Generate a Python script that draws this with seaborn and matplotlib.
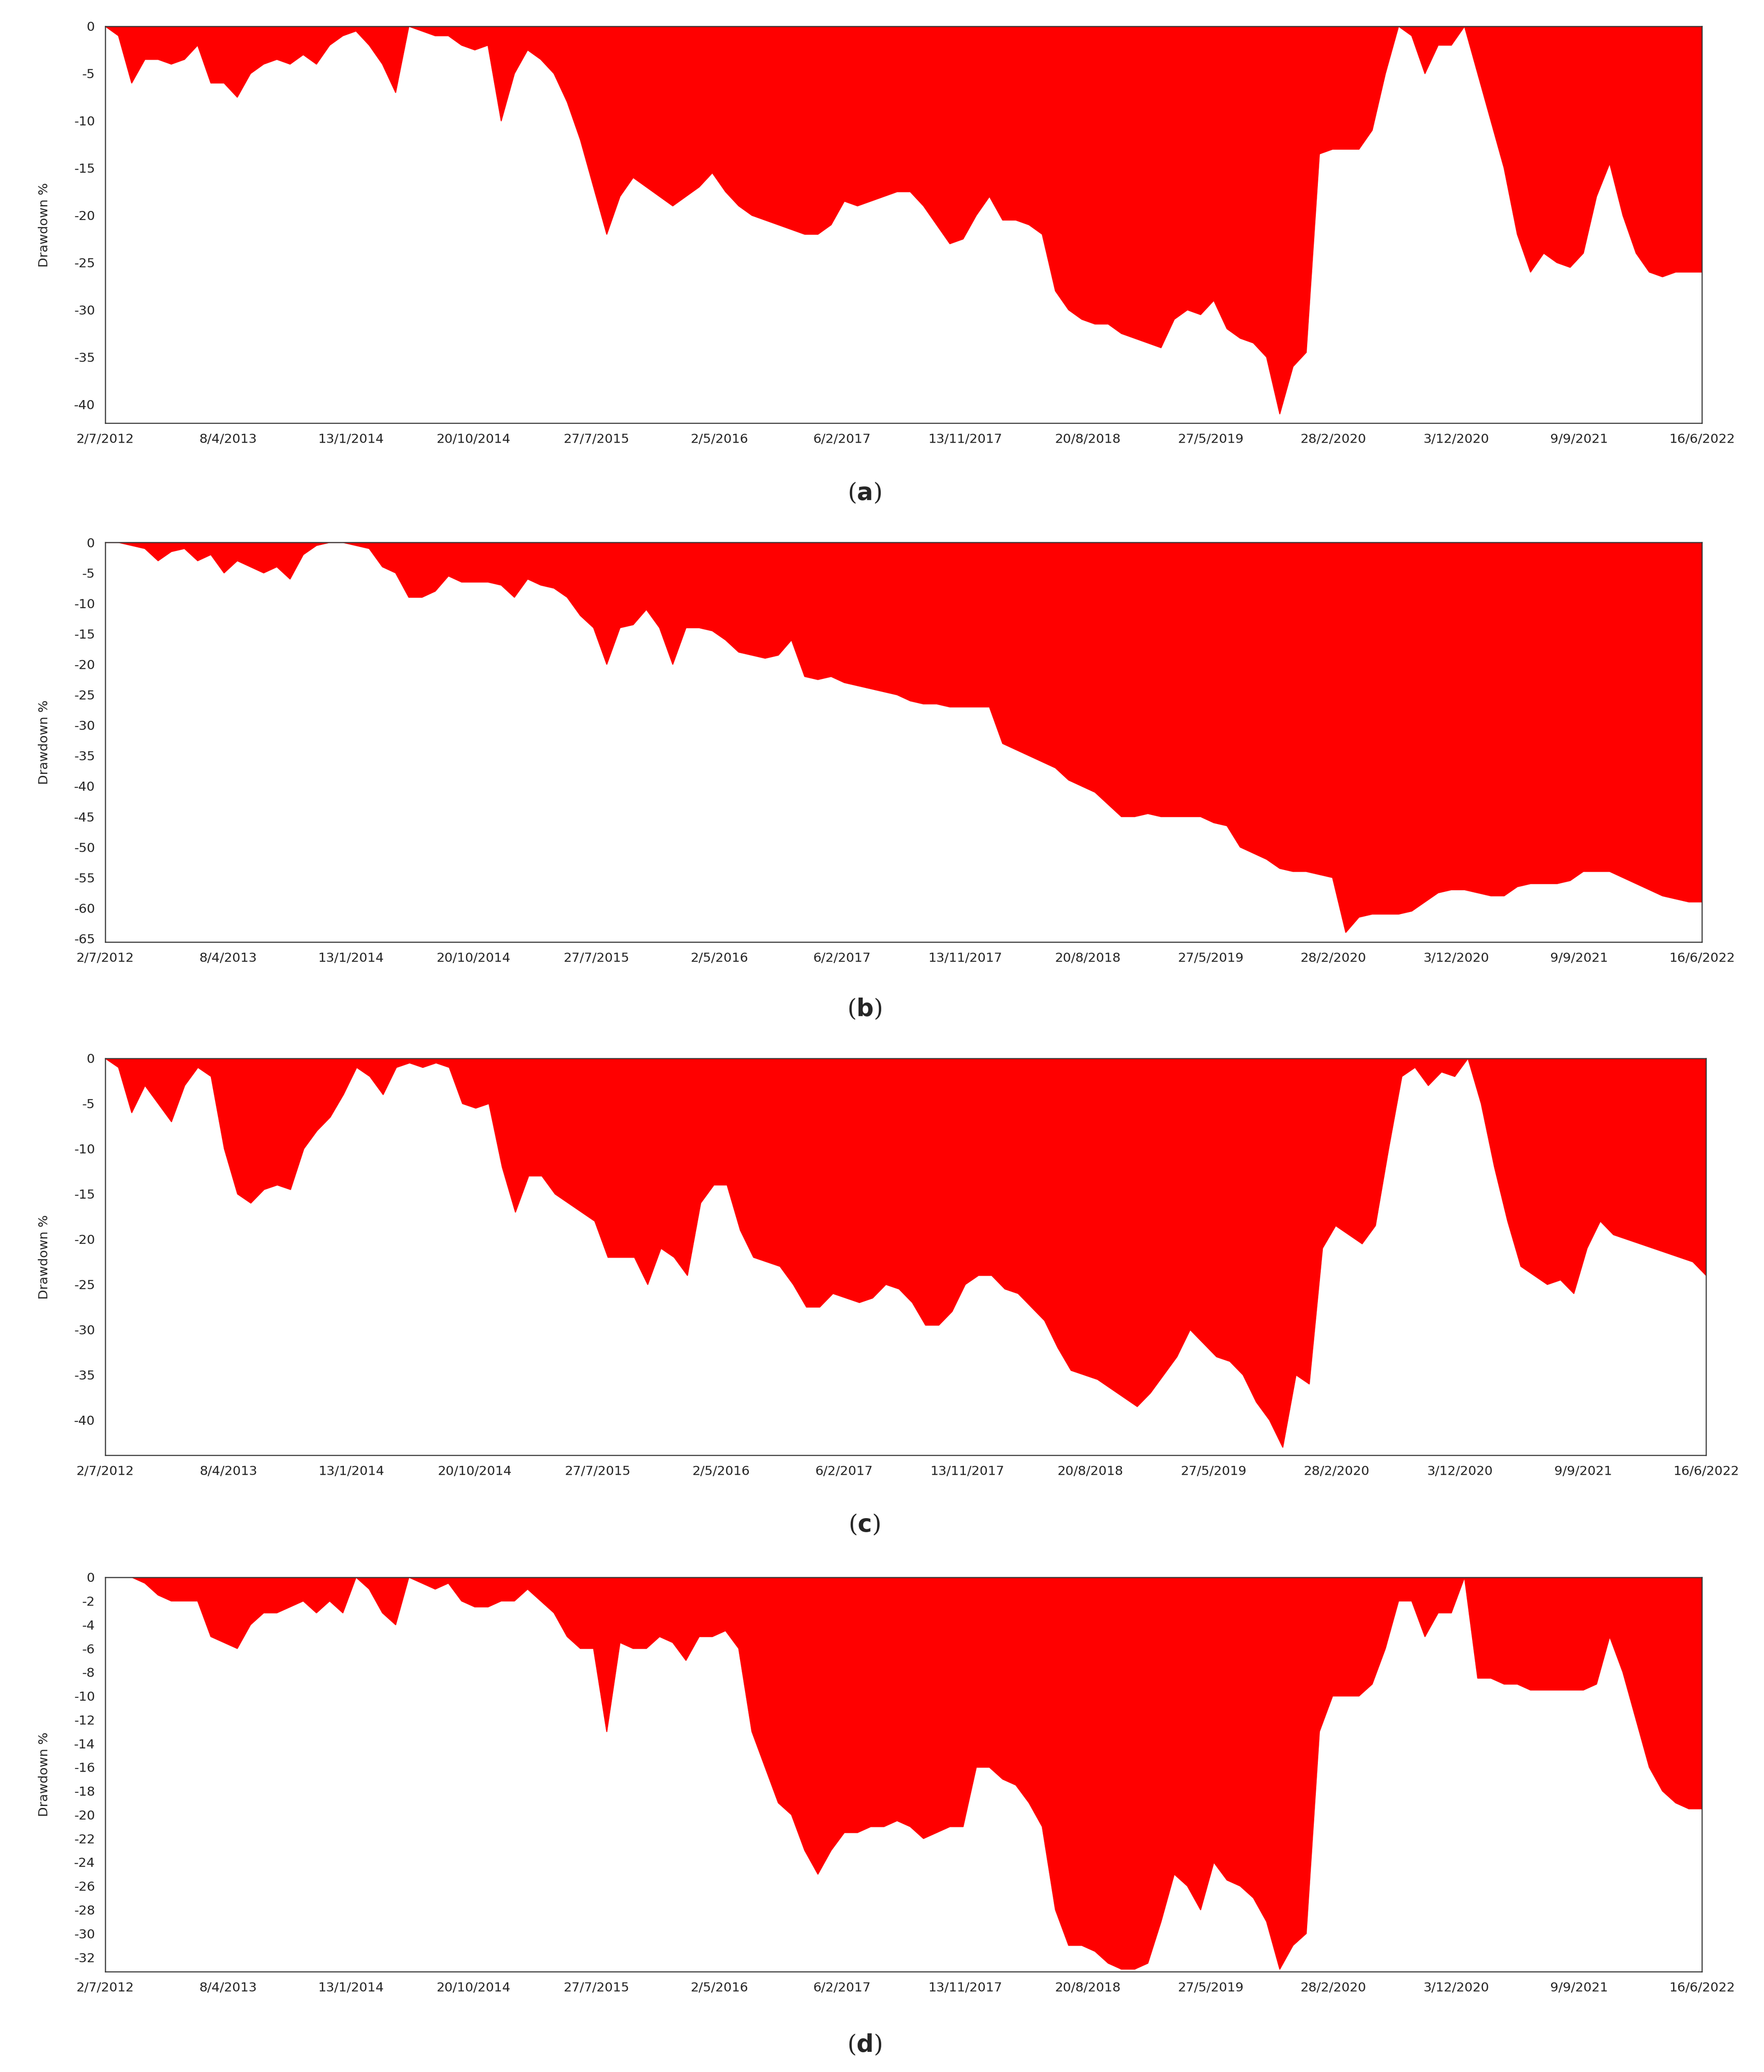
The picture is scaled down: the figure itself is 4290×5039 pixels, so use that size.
"""
Drawdown panels (a)-(d) redrawn with seaborn/matplotlib
"""

import numpy as np
import pandas as pd
import matplotlib.pyplot as plt
import seaborn as sns

sns.set_style('white')
plt.rcParams['font.family'] = ['DejaVu Sans']

# tick labels on the (trading-day) x axis
tick_labels = ['2/7/2012', '8/4/2013', '13/1/2014', '20/10/2014', '27/7/2015',
               '2/5/2016', '6/2/2017', '13/11/2017', '20/8/2018', '27/5/2019',
               '28/2/2020', '3/12/2020', '9/9/2021', '16/6/2022']

dd_a = [0, -1, -6, -3.5, -3.5, -4, -3.5, -2, -6, -6, -7.5, -5, -4, -3.5, -4, -3, -4, -2, -1, -0.5,
        -2, -4, -7, 0, -0.5, -1, -1, -2, -2.5, -2, -10, -5, -2.5, -3.5, -5, -8, -12, -17, -22, -18,
        -16, -17, -18, -19, -18, -17, -15.5, -17.5, -19, -20, -20.5, -21, -21.5, -22, -22, -21, -18.5, -19, -18.5, -18,
        -17.5, -17.5, -19, -21, -23, -22.5, -20, -18, -20.5, -20.5, -21, -22, -28, -30, -31, -31.5, -31.5, -32.5, -33, -33.5,
        -34, -31, -30, -30.5, -29, -32, -33, -33.5, -35, -41, -36, -34.5, -13.5, -13, -13, -13, -11, -5, 0, -1,
        -5, -2, -2, 0, -5, -10, -15, -22, -26, -24, -25, -25.5, -24, -18, -14.5, -20, -24, -26, -26.5, -26,
        -26, -26]

dd_b = [0, 0, -0.5, -1, -3, -1.5, -1, -3, -2, -5, -3, -4, -5, -4, -6, -2, -0.5, 0, 0, -0.5,
        -1, -4, -5, -9, -9, -8, -5.5, -6.5, -6.5, -6.5, -7, -9, -6, -7, -7.5, -9, -12, -14, -20, -14,
        -13.5, -11, -14, -20, -14, -14, -14.5, -16, -18, -18.5, -19, -18.5, -16, -22, -22.5, -22, -23, -23.5, -24, -24.5,
        -25, -26, -26.5, -26.5, -27, -27, -27, -27, -33, -34, -35, -36, -37, -39, -40, -41, -43, -45, -45, -44.5,
        -45, -45, -45, -45, -46, -46.5, -50, -51, -52, -53.5, -54, -54, -54.5, -55, -64, -61.5, -61, -61, -61, -60.5,
        -59, -57.5, -57, -57, -57.5, -58, -58, -56.5, -56, -56, -56, -55.5, -54, -54, -54, -55, -56, -57, -58, -58.5,
        -59, -59]

dd_c = [0, -1, -6, -3, -5, -7, -3, -1, -2, -10, -15, -16, -14.5, -14, -14.5, -10, -8, -6.5, -4, -1,
        -2, -4, -1, -0.5, -1, -0.5, -1, -5, -5.5, -5, -12, -17, -13, -13, -15, -16, -17, -18, -22, -22,
        -22, -25, -21, -22, -24, -16, -14, -14, -19, -22, -22.5, -23, -25, -27.5, -27.5, -26, -26.5, -27, -26.5, -25,
        -25.5, -27, -29.5, -29.5, -28, -25, -24, -24, -25.5, -26, -27.5, -29, -32, -34.5, -35, -35.5, -36.5, -37.5, -38.5, -37,
        -35, -33, -30, -31.5, -33, -33.5, -35, -38, -40, -43, -35, -36, -21, -18.5, -19.5, -20.5, -18.5, -10, -2, -1,
        -3, -1.5, -2, 0, -5, -12, -18, -23, -24, -25, -24.5, -26, -21, -18, -19.5, -20, -20.5, -21, -21.5, -22,
        -22.5, -24]

dd_d = [0, 0, 0, -0.5, -1.5, -2, -2, -2, -5, -5.5, -6, -4, -3, -3, -2.5, -2, -3, -2, -3, 0,
        -1, -3, -4, 0, -0.5, -1, -0.5, -2, -2.5, -2.5, -2, -2, -1, -2, -3, -5, -6, -6, -13, -5.5,
        -6, -6, -5, -5.5, -7, -5, -5, -4.5, -6, -13, -16, -19, -20, -23, -25, -23, -21.5, -21.5, -21, -21,
        -20.5, -21, -22, -21.5, -21, -21, -16, -16, -17, -17.5, -19, -21, -28, -31, -31, -31.5, -32.5, -33, -33, -32.5,
        -29, -25, -26, -28, -24, -25.5, -26, -27, -29, -33, -31, -30, -13, -10, -10, -10, -9, -6, -2, -2,
        -5, -3, -3, 0, -8.5, -8.5, -9, -9, -9.5, -9.5, -9.5, -9.5, -9.5, -9, -5, -8, -12, -16, -18, -19,
        -19.5, -19.5]

panels = [
    ('a', dd_a, -42.0, np.arange(0, -41, -5)),
    ('b', dd_b, -65.6, np.arange(0, -66, -5)),
    ('c', dd_c, -43.9, np.arange(0, -41, -5)),
    ('d', dd_d, -33.2, np.arange(0, -33, -2)),
]

fig = plt.figure(figsize=(14.3, 16.797), dpi=300)

# axes boxes in figure fractions (left, bottom, width, height)
boxes = [(0.0597, 0.7957, 0.9052, 0.1916),
         (0.0597, 0.5453, 0.9052, 0.1929),
         (0.0597, 0.2976, 0.9075, 0.1916),
         (0.0597, 0.0485, 0.9052, 0.1903)]
label_y = [0.762, 0.513, 0.264, 0.013]

for (letter, vals, ymin, yticks), box, ly in zip(panels, boxes, label_y):
    ax = fig.add_axes(box)
    df = pd.DataFrame({'pos': np.arange(len(vals)), 'dd': vals})
    ax.fill_between(df['pos'], 0, df['dd'], color='#ff0000', linewidth=0)
    sns.lineplot(data=df, x='pos', y='dd', color='#ff0000', linewidth=0.6, ax=ax)
    n = len(vals) - 1
    ax.set_xlim(0, n)
    ax.set_ylim(ymin, 0)
    ax.set_xticks(np.linspace(0, n, len(tick_labels)))
    ax.set_xticklabels(tick_labels, fontsize=7.5)
    ax.set_yticks(yticks)
    ax.set_yticklabels([str(int(t)) for t in yticks], fontsize=7.5)
    ax.tick_params(length=0, pad=6)
    ax.set_xlabel('')
    ax.set_ylabel('Drawdown %', fontsize=7.5, labelpad=14)
    for s in ax.spines.values():
        s.set_color('#333333')
        s.set_linewidth(0.6)
    fig.text(0.49, ly, '(' + r'$\mathbf{' + letter + '}$' + ')', ha='center', va='center',
             fontsize=14, family='DejaVu Serif')

fig.savefig('out.png', dpi=300)
print("saved out.png")
